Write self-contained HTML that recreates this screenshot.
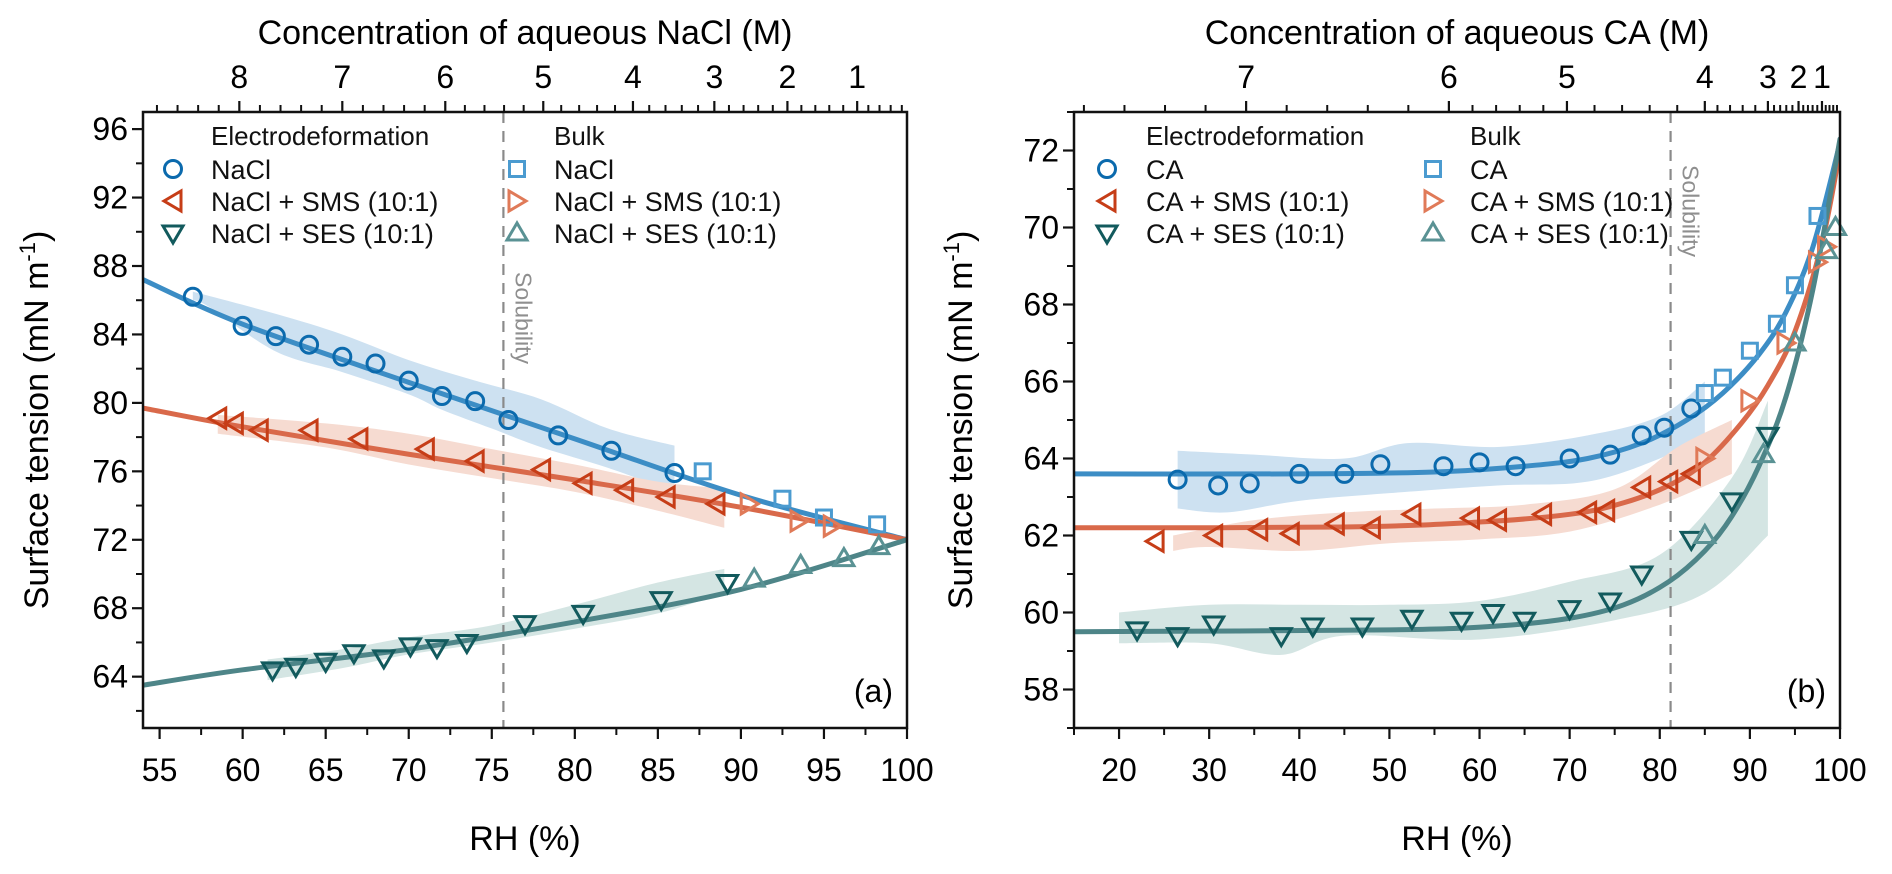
<!DOCTYPE html>
<html><head><meta charset="utf-8"><style>
html,body{margin:0;padding:0;background:#fff;}
svg{display:block;font-family:"Liberation Sans",Arial,sans-serif;}
</style></head><body>
<svg id="fig" width="1892" height="874" viewBox="0 0 1892 874"></svg>
<script>
// ---------- Panel (a) data ----------
const aNaClED_x=[57,60,62,64,66,68,70,72,74,76,79,82.2,86];
const aNaClED_y=[86.2,84.5,83.9,83.4,82.7,82.3,81.3,80.4,80.1,79.0,78.1,77.2,75.9];
const aNaClBulk_x=[87.7,92.5,95,98.2];
const aNaClBulk_y=[76.0,74.4,73.3,72.9];
const aNaClFit_x=[54,60,70,80,90,100];
const aNaClFit_y=[87.2,84.6,81.2,77.9,74.6,72];
const aNaClBandUp_x=[57,62,66,70,74,78,82,86];
const aNaClBandUp_y=[86.5,85.2,84,82.5,81.3,80.2,78.5,77.5];
const aNaClBandLo_x=[57,58,62,66,70,72,75,78,82,86];
const aNaClBandLo_y=[86.0,85.6,83,81.8,80.5,79.6,78.5,77.4,76.2,74.8];

const aSMSED_x=[58.5,59.5,61,64,67,71,74,78,80.5,83,85.5,88.5];
const aSMSED_y=[79.1,78.8,78.4,78.4,77.9,77.3,76.6,76.1,75.3,74.9,74.5,74.1];
const aSMSBulk_x=[90.5,93.5,95.5];
const aSMSBulk_y=[74.1,73.1,72.8];
const aSMSFit_x=[54,60,70,80,90,100];
const aSMSFit_y=[79.7,78.6,77.0,75.5,73.9,72];
const aSMSBandUp_x=[58.5,65,70,75,80,85,89];
const aSMSBandUp_y=[79.3,78.8,78.2,77.3,76.4,75.4,75.0];
const aSMSBandLo_x=[58.5,65,70,75,80,85,89];
const aSMSBandLo_y=[78.2,77.4,76.4,75.6,74.8,73.7,72.7];

const aSESED_x=[61.8,63.2,65,66.7,68.5,70.1,71.7,73.5,77,80.5,85.2,89.2];
const aSESED_y=[64.4,64.6,64.9,65.4,65.1,65.8,65.7,66.0,67.1,67.7,68.5,69.5];
const aSESBulk_x=[90.8,93.6,96.2,98.3];
const aSESBulk_y=[69.7,70.5,70.9,71.6];
const aSESFit_x=[54,60,70,80,90,100];
const aSESFit_y=[63.5,64.4,65.6,67.2,69.1,72];
const aSESBandUp_x=[61.5,66,70,75,80,85,89];
const aSESBandUp_y=[65.0,65.6,66.3,67.0,68.2,69.5,70.3];
const aSESBandLo_x=[61.5,66,70,75,80,85,89];
const aSESBandLo_y=[63.8,64.5,65.3,66.0,66.8,67.7,68.9];

const aXTicks=[55,60,65,70,75,80,85,90,95,100];
const aYTicks=[64,68,72,76,80,84,88,92,96];
const aConcLabels=[8,7,6,5,4,3,2,1];
const aConcRH=[59.8,66.0,72.2,78.1,83.5,88.4,92.8,97.0];
const aSolubility=75.7;

// ---------- Panel (b) data ----------
const bCAED_x=[26.5,31,34.5,40,45,49,56,60,64,70,74.5,78,80.5,83.5];
const bCAED_y=[63.45,63.3,63.35,63.6,63.6,63.85,63.8,63.9,63.8,64.0,64.1,64.6,64.8,65.3];
const bCABulk_x=[85,87,90,93,95,97.5];
const bCABulk_y=[65.7,66.1,66.8,67.5,68.5,70.3];
const bCAFit_x=[15,40,55,65,72,78,83,87,91,94,97,100];
const bCAFit_y=[63.6,63.6,63.65,63.8,64.0,64.4,65.0,65.7,66.7,67.8,69.5,72.2];
const bCABandUp_x=[26.5,35,45,52,62,72,80,85];
const bCABandUp_y=[64.2,64.1,64.0,64.4,64.3,64.6,65.1,66.0];
const bCABandLo_x=[26.5,32,40,50,62,72,80,85];
const bCABandLo_y=[62.7,62.6,62.9,63.1,63.3,63.4,64.0,64.6];

const bSMSED_x=[24,30.5,35.5,39,44,48,52.5,59,62,67,72,74,78,81,83.5];
const bSMSED_y=[61.85,62.0,62.15,62.05,62.3,62.2,62.55,62.45,62.4,62.55,62.6,62.65,63.25,63.4,63.6];
const bSMSBulk_x=[85,90,94,97.5,98.5];
const bSMSBulk_y=[64.0,65.5,67.0,69.1,69.5];
const bSMSFit_x=[15,45,60,70,76,81,85,89,92,95,98,100];
const bSMSFit_y=[62.2,62.22,62.35,62.55,62.85,63.3,63.9,64.9,65.9,67.3,69.6,72];
const bSMSBandUp_x=[26,35,45,55,65,75,82,88];
const bSMSBandUp_y=[62.0,62.4,62.6,62.7,62.8,63.2,64.3,65.0];
const bSMSBandLo_x=[26,30,40,50,60,70,80,88];
const bSMSBandLo_y=[61.6,61.7,61.6,61.8,61.9,62.1,62.8,63.6];

const bSESED_x=[22,26.5,30.5,38,41.5,47,52.5,58,61.5,65,70,74.5,78,83.5,88,92];
const bSESED_y=[59.55,59.4,59.7,59.4,59.65,59.65,59.85,59.8,60.0,59.8,60.1,60.3,61.0,61.9,62.9,64.6];
const bSESBulk_x=[85,91.5,95,98.5,99.5];
const bSESBulk_y=[62.0,64.1,67.0,69.4,70.0];
const bSESFit_x=[15,50,62,70,76,81,85,88,91,94,97,100];
const bSESFit_y=[59.5,59.55,59.65,59.85,60.2,60.8,61.6,62.5,63.8,65.6,68.4,72.3];
const bSESBandUp_x=[20,30,40,50,60,70,80,88,92];
const bSESBandUp_y=[60.0,60.2,60.2,60.2,60.3,60.8,61.5,63.5,65.5];
const bSESBandLo_x=[20,30,38,45,60,75,85,92];
const bSESBandLo_y=[59.2,59.2,58.9,59.4,59.3,59.8,60.5,62.0];

const bXTicks=[20,30,40,50,60,70,80,90,100];
const bYTicks=[58,60,62,64,66,68,70,72];
const bConcLabels=[7,6,5,4,3,2,1];
const bConcRH=[34.1,56.6,69.7,85.0,92.0,95.4,98.0];
const bSolubility=81.2;

const NS="http://www.w3.org/2000/svg";
const svg=document.getElementById('fig');
function mk(tag,attrs,parent){const e=document.createElementNS(NS,tag);for(const k in attrs)e.setAttribute(k,attrs[k]);(parent||svg).appendChild(e);return e;}
function txt(s,attrs,parent){const e=mk('text',attrs,parent);e.textContent=s;return e;}

function smooth(pts){
  let d='M'+pts[0][0]+','+pts[0][1];
  for(let i=0;i<pts.length-1;i++){
    const p0=pts[i-1]||pts[i],p1=pts[i],p2=pts[i+1],p3=pts[i+2]||p2;
    const c1=[p1[0]+(p2[0]-p0[0])/6,p1[1]+(p2[1]-p0[1])/6];
    const c2=[p2[0]-(p3[0]-p1[0])/6,p2[1]-(p3[1]-p1[1])/6];
    d+=` C${c1[0]},${c1[1]} ${c2[0]},${c2[1]} ${p2[0]},${p2[1]}`;
  }
  return d;
}

const C={blueED:'#0b6aad',blueBulk:'#4b9bd0',blueFit:'#3c8dc5',blueBand:'#cde1f1',
 redED:'#c63d17',redBulk:'#e07a58',redFit:'#d9694a',redBand:'#f6dbd1',
 tealED:'#125a5d',tealBulk:'#5a9294',tealFit:'#4e8588',tealBand:'#d4e5e3'};

function marker(g,shape,cx,cy,color){
  const r=8.5,sw=3;
  if(shape==='circle') return mk('circle',{cx:cx,cy:cy,r:r,fill:'none',stroke:color,'stroke-width':sw},g);
  if(shape==='square') return mk('rect',{x:cx-7.5,y:cy-7.5,width:15,height:15,fill:'none',stroke:color,'stroke-width':sw},g);
  let p;
  if(shape==='left') p=[[cx-9,cy],[cx+8,cy-10],[cx+8,cy+10]];
  if(shape==='right') p=[[cx+9,cy],[cx-8,cy-10],[cx-8,cy+10]];
  if(shape==='down') p=[[cx,cy+10],[cx-10,cy-7],[cx+10,cy-7]];
  if(shape==='up') p=[[cx,cy-10],[cx-10,cy+7],[cx+10,cy+7]];
  return mk('polygon',{points:p.map(q=>q.join(',')).join(' '),fill:'none',stroke:color,'stroke-width':sw,'stroke-linejoin':'miter'},g);
}

function panel(cfg){
  const {L,R,T,B,xmin,xmax,ymin,ymax,name}=cfg;
  const X=v=>L+(v-xmin)/(xmax-xmin)*(R-L);
  const Y=v=>B-(v-ymin)/(ymax-ymin)*(B-T);
  const g=mk('g',{});
  
  
  const clipId=name+'-clip';
  const defs=mk('defs',{},g);
  const cp=mk('clipPath',{id:clipId},defs);
  mk('rect',{x:L,y:T,width:R-L,height:B-T},cp);
  const plot=mk('g',{'clip-path':'url(#'+clipId+')'},g);
  
  
  cfg.series.forEach(s=>{
    const up=s.bu[0].map((x,i)=>[X(x),Y(s.bu[1][i])]);
    const lo=s.bl[0].map((x,i)=>[X(x),Y(s.bl[1][i])]).reverse();
    const d=smooth(up)+' L'+lo[0][0]+','+lo[0][1]+' '+smooth(lo).slice(1).replace(/^[^C]*/,'')+' Z';
    const b=mk('path',{d:d,fill:s.band,stroke:'none'},plot);
    
    
  });
  const sl=mk('line',{x1:X(cfg.sol),x2:X(cfg.sol),y1:T,y2:B,stroke:'#8a8a8a','stroke-width':2.2,'stroke-dasharray':'11,8'},plot);
  
  
  const st=txt('Solubility',{x:0,y:0,transform:`translate(${X(cfg.sol)+12},${cfg.solY}) rotate(90)`,fill:'#8f8f8f','font-size':23},plot);
  
  
  cfg.series.forEach(s=>{
    const pts=s.f[0].map((x,i)=>[X(x),Y(s.f[1][i])]);
    const p=mk('path',{d:smooth(pts),fill:'none',stroke:s.fit,'stroke-width':5,'stroke-linecap':'round','stroke-linejoin':'round'},plot);
    
    
  });
  cfg.series.forEach(s=>{
    const ge=mk('g',{},g);
    
    
    s.e[0].forEach((x,i)=>{const m=marker(ge,s.es,X(x),Y(s.e[1][i]),s.ec);
      
      });
    const gb=mk('g',{},g);
    
    
    s.b[0].forEach((x,i)=>{const m=marker(gb,s.bs,X(x),Y(s.b[1][i]),s.bc);
      
      });
  });
  const fr=mk('rect',{x:L,y:T,width:R-L,height:B-T,fill:'none',stroke:'#111','stroke-width':2.5},g);
  
  
  const xa=mk('g',{},g);
  
  
  cfg.xt.forEach(v=>{mk('line',{x1:X(v),x2:X(v),y1:B,y2:B+11,stroke:'#111','stroke-width':2.2},xa);
    const t=txt(String(v),{x:X(v),y:B+53,'text-anchor':'middle','font-size':32,fill:'#000'},xa);
    
    });
  for(let v=cfg.xt[0]-cfg.xminor;v<=xmax;v+=cfg.xminor){ if(v<xmin) continue; if(cfg.xt.some(t=>Math.abs(t-v)<1e-6)) continue;
    mk('line',{x1:X(v),x2:X(v),y1:B,y2:B+7,stroke:'#111','stroke-width':2},xa);}
  const xt=txt('RH (%)',{x:(L+R)/2,y:850,'text-anchor':'middle','font-size':34,fill:'#000'},g);
  
  
  const ya=mk('g',{},g);
  
  
  cfg.yt.forEach(v=>{mk('line',{x1:L-11,x2:L,y1:Y(v),y2:Y(v),stroke:'#111','stroke-width':2.2},ya);
    const t=txt(String(v),{x:L-15,y:Y(v)+11,'text-anchor':'end','font-size':32,fill:'#000'},ya);
    
    });
  for(let v=cfg.yt[0]-cfg.yminor;v<=ymax;v+=cfg.yminor){ if(v<ymin) continue; if(cfg.yt.some(t=>Math.abs(t-v)<1e-6)) continue;
    mk('line',{x1:L-7,x2:L,y1:Y(v),y2:Y(v),stroke:'#111','stroke-width':2},ya);}
  const yt=txt('',{transform:`translate(${cfg.ytx},${(T+B)/2}) rotate(-90)`,'text-anchor':'middle','font-size':34,fill:'#000'},g);
  
  
  const t1=mk('tspan',{},yt);t1.textContent='Surface tension (mN m';
  const t2=mk('tspan',{dy:-13,'font-size':22},yt);t2.textContent='-1';
  const t3=mk('tspan',{dy:13},yt);t3.textContent=')';
  const ta=mk('g',{},g);
  
  
  const cl=cfg.cl, cr=cfg.cr;
  cl.forEach((c,i)=>{const x=X(cr[i]);
    mk('line',{x1:x,x2:x,y1:T,y2:T-11,stroke:'#111','stroke-width':2.2},ta);
    const t=txt(String(c),{x:x,y:T-24,'text-anchor':'middle','font-size':32,fill:'#000'},ta);
    
    
    if(i<cl.length-1){for(let k=1;k<5;k++){const xm=X(cr[i]+(cr[i+1]-cr[i])*k/5);
      mk('line',{x1:xm,x2:xm,y1:T,y2:T-7,stroke:'#111','stroke-width':2},ta);}}
  });
  const d0=(cr[1]-cr[0])/5; for(let k=1;k<6;k++){const v=cr[0]-d0*k; if(v<=xmin) break; mk('line',{x1:X(v),x2:X(v),y1:T,y2:T-7,stroke:'#111','stroke-width':2},ta);}
  const n=cr.length, d1=(cr[n-1]-cr[n-2])/5*0.8; for(let k=1;k<8;k++){const v=cr[n-1]+d1*k; if(v>=xmax) break; mk('line',{x1:X(v),x2:X(v),y1:T,y2:T-7,stroke:'#111','stroke-width':2},ta);}
  const tt=txt(cfg.topTitle,{x:(L+R)/2,y:44,'text-anchor':'middle','font-size':34,fill:'#000'},g);
  
  
  const pl=txt(cfg.label,{x:R-14,y:B-26,'text-anchor':'end','font-size':32,fill:'#000'},g);
  
  
  const lg=mk('g',{},g);
  
  
  const lz=cfg.leg;
  txt('Electrodeformation',{x:lz.tx1,y:145,'font-size':26,fill:'#111'},lg);
  txt('Bulk',{x:lz.tx2,y:145,'font-size':26,fill:'#111'},lg);
  const rows=[169,201,233];
  cfg.series.forEach((s,i)=>{
    const e1=mk('g',{},lg);
    
    
    marker(e1,s.es,lz.mx1,rows[i],s.ec);
    txt(s.edName,{x:lz.tx1,y:rows[i]+10,'font-size':27,fill:'#111'},e1);
    const e2=mk('g',{},lg);
    
    
    marker(e2,s.bs,lz.mx2,rows[i],s.bc);
    txt(s.edName,{x:lz.tx2,y:rows[i]+10,'font-size':27,fill:'#111'},e2);
  });
}

panel({name:'panel-a',L:143,R:907,T:112,B:728,xmin:54,xmax:100,ymin:61,ymax:97,
  xt:aXTicks,xminor:2.5,yt:aYTicks,yminor:2,ytx:48,sol:aSolubility,solY:272,
  cl:aConcLabels,cr:aConcRH,topTitle:'Concentration of aqueous NaCl (M)',label:'(a)',
  leg:{mx1:173,tx1:211,mx2:517,tx2:554},
  series:[
   {id:'nacl',edName:'NaCl',e:[aNaClED_x,aNaClED_y],b:[aNaClBulk_x,aNaClBulk_y],f:[aNaClFit_x,aNaClFit_y],bu:[aNaClBandUp_x,aNaClBandUp_y],bl:[aNaClBandLo_x,aNaClBandLo_y],es:'circle',bs:'square',ec:C.blueED,bc:C.blueBulk,fit:C.blueFit,band:C.blueBand},
   {id:'nacl-sms',edName:'NaCl + SMS (10:1)',e:[aSMSED_x,aSMSED_y],b:[aSMSBulk_x,aSMSBulk_y],f:[aSMSFit_x,aSMSFit_y],bu:[aSMSBandUp_x,aSMSBandUp_y],bl:[aSMSBandLo_x,aSMSBandLo_y],es:'left',bs:'right',ec:C.redED,bc:C.redBulk,fit:C.redFit,band:C.redBand},
   {id:'nacl-ses',edName:'NaCl + SES (10:1)',e:[aSESED_x,aSESED_y],b:[aSESBulk_x,aSESBulk_y],f:[aSESFit_x,aSESFit_y],bu:[aSESBandUp_x,aSESBandUp_y],bl:[aSESBandLo_x,aSESBandLo_y],es:'down',bs:'up',ec:C.tealED,bc:C.tealBulk,fit:C.tealFit,band:C.tealBand}
  ]});

panel({name:'panel-b',L:1074,R:1840,T:112,B:728,xmin:15,xmax:100,ymin:57,ymax:73,
  xt:bXTicks,xminor:5,yt:bYTicks,yminor:1,ytx:972,sol:bSolubility,solY:165,
  cl:bConcLabels,cr:bConcRH,topTitle:'Concentration of aqueous CA (M)',label:'(b)',
  leg:{mx1:1107,tx1:1146,mx2:1433,tx2:1470},
  series:[
   {id:'ca',edName:'CA',e:[bCAED_x,bCAED_y],b:[bCABulk_x,bCABulk_y],f:[bCAFit_x,bCAFit_y],bu:[bCABandUp_x,bCABandUp_y],bl:[bCABandLo_x,bCABandLo_y],es:'circle',bs:'square',ec:C.blueED,bc:C.blueBulk,fit:C.blueFit,band:C.blueBand},
   {id:'ca-sms',edName:'CA + SMS (10:1)',e:[bSMSED_x,bSMSED_y],b:[bSMSBulk_x,bSMSBulk_y],f:[bSMSFit_x,bSMSFit_y],bu:[bSMSBandUp_x,bSMSBandUp_y],bl:[bSMSBandLo_x,bSMSBandLo_y],es:'left',bs:'right',ec:C.redED,bc:C.redBulk,fit:C.redFit,band:C.redBand},
   {id:'ca-ses',edName:'CA + SES (10:1)',e:[bSESED_x,bSESED_y],b:[bSESBulk_x,bSESBulk_y],f:[bSESFit_x,bSESFit_y],bu:[bSESBandUp_x,bSESBandUp_y],bl:[bSESBandLo_x,bSESBandLo_y],es:'down',bs:'up',ec:C.tealED,bc:C.tealBulk,fit:C.tealFit,band:C.tealBand}
  ]});
</script>
</body></html>
